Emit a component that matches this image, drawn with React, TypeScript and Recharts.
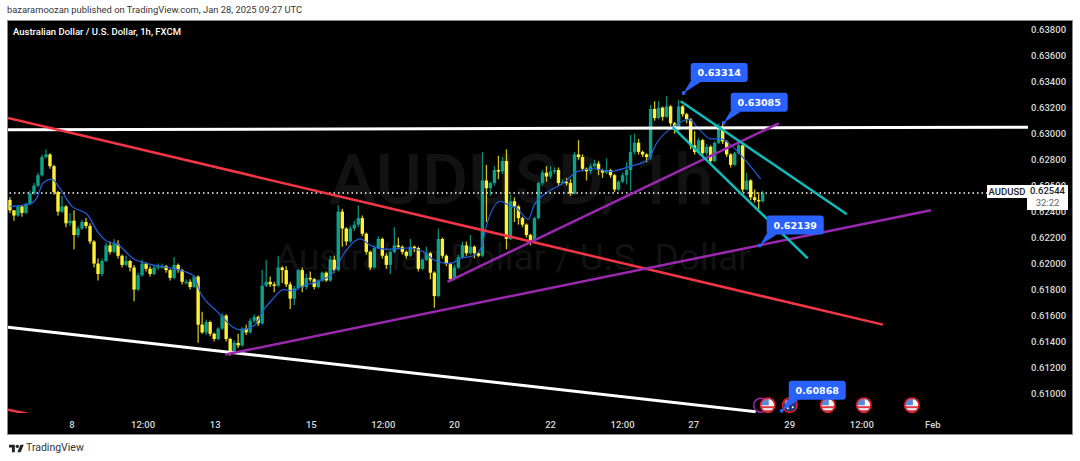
import { Bar, ComposedChart, Line, ReferenceDot, ReferenceLine, XAxis, YAxis } from "recharts";

// all prices in pips (0.0001), one candle = 2 chart hours
const FIRST_OPEN = 6249;
const closes = [
  6241, 6237, 6244, 6239, 6246, 6254, 6260, 6268, 6282, 6284, 6275, 6255, 6240, 6244, 6231, 6233, 6222, 6227, 6232, 6229, 6217, 6200, 6192, 6202, 6214, 6209, 6215, 6206, 6199, 6202, 6197, 6180, 6191, 6200, 6196, 6192, 6197, 6198,
  6198, 6195, 6189, 6199, 6195, 6186, 6186, 6182, 6190, 6153, 6147, 6155, 6146, 6142, 6150, 6160, 6142, 6132, 6139, 6137, 6150, 6147, 6156, 6159, 6154, 6183, 6186, 6184, 6183, 6197, 6195, 6184, 6173, 6181, 6195, 6182, 6189,
  6188, 6182, 6187, 6193, 6187, 6203, 6195, 6240, 6227, 6217, 6227, 6230, 6235, 6223, 6209, 6197, 6212, 6219, 6206, 6199, 6209, 6214, 6213, 6209, 6206, 6213, 6212, 6196, 6203, 6208, 6193, 6175, 6219, 6206, 6200, 6188, 6197, 6205,
  6214, 6208, 6213, 6208, 6206, 6264, 6258, 6262, 6272, 6271, 6279, 6219, 6248, 6244, 6235, 6230, 6222, 6218, 6235, 6262, 6270, 6267, 6271, 6272, 6262, 6263, 6262, 6254, 6284, 6282, 6273, 6271, 6275, 6277, 6272, 6270, 6272,
  6268, 6257, 6263, 6268, 6272, 6286, 6293, 6286, 6284, 6282, 6319, 6312, 6320, 6313, 6321, 6308, 6303, 6321, 6315, 6311, 6291, 6286, 6295, 6285, 6290, 6279, 6293, 6304, 6294, 6284, 6276, 6285, 6291, 6257, 6264, 6251, 6249, 6248, 6254,
];
const highs = [
  6251, 6241, 6245, 6245, 6247, 6256, 6262, 6270, 6284, 6288, 6285, 6276, 6256, 6252, 6245, 6239, 6241, 6229, 6234, 6235, 6231, 6218, 6204, 6204, 6216, 6217, 6219, 6218, 6207, 6206, 6203, 6199, 6193, 6203, 6201, 6198, 6199, 6200,
  6200, 6199, 6196, 6205, 6200, 6196, 6188, 6188, 6191, 6191, 6163, 6157, 6156, 6147, 6151, 6162, 6161, 6143, 6141, 6146, 6151, 6153, 6158, 6161, 6160, 6195, 6203, 6190, 6186, 6206, 6198, 6198, 6186, 6183, 6196, 6197, 6192,
  6194, 6189, 6188, 6194, 6194, 6206, 6206, 6245, 6242, 6228, 6229, 6233, 6245, 6237, 6224, 6210, 6214, 6221, 6220, 6208, 6210, 6228, 6220, 6214, 6210, 6219, 6214, 6213, 6204, 6213, 6209, 6194, 6227, 6220, 6207, 6201, 6199, 6207,
  6217, 6217, 6222, 6214, 6209, 6286, 6276, 6263, 6275, 6283, 6282, 6288, 6253, 6251, 6245, 6236, 6231, 6223, 6236, 6263, 6272, 6275, 6275, 6274, 6274, 6265, 6266, 6265, 6286, 6295, 6284, 6274, 6277, 6280, 6279, 6273, 6281,
  6273, 6269, 6264, 6270, 6278, 6299, 6300, 6296, 6287, 6285, 6322, 6325, 6325, 6321, 6329, 6322, 6309, 6326, 6322, 6316, 6312, 6302, 6297, 6296, 6292, 6291, 6294, 6308, 6308, 6295, 6285, 6286, 6293, 6293, 6270, 6265, 6257, 6255, 6256,
];
const lows = [
  6239, 6233, 6236, 6236, 6238, 6245, 6253, 6259, 6267, 6281, 6273, 6253, 6237, 6239, 6228, 6229, 6211, 6220, 6226, 6227, 6215, 6197, 6187, 6190, 6201, 6207, 6208, 6204, 6197, 6198, 6194, 6171, 6179, 6190, 6194, 6190, 6191, 6195,
  6196, 6193, 6187, 6188, 6193, 6184, 6184, 6180, 6181, 6139, 6146, 6145, 6144, 6140, 6141, 6149, 6140, 6129, 6131, 6135, 6136, 6145, 6146, 6154, 6152, 6153, 6182, 6182, 6178, 6182, 6185, 6182, 6165, 6168, 6180, 6178, 6180,
  6186, 6180, 6181, 6186, 6186, 6186, 6193, 6194, 6213, 6214, 6216, 6225, 6228, 6221, 6207, 6195, 6196, 6211, 6204, 6196, 6192, 6208, 6211, 6207, 6204, 6205, 6209, 6194, 6195, 6202, 6188, 6166, 6174, 6204, 6198, 6186, 6187, 6196,
  6204, 6206, 6207, 6204, 6205, 6205, 6232, 6252, 6260, 6265, 6269, 6211, 6218, 6232, 6230, 6228, 6220, 6214, 6217, 6234, 6260, 6263, 6265, 6269, 6260, 6261, 6260, 6252, 6253, 6280, 6271, 6264, 6269, 6274, 6268, 6266, 6269,
  6266, 6255, 6256, 6262, 6261, 6256, 6284, 6284, 6282, 6278, 6280, 6310, 6311, 6310, 6312, 6306, 6300, 6302, 6313, 6308, 6288, 6284, 6285, 6283, 6283, 6277, 6278, 6292, 6292, 6282, 6274, 6275, 6284, 6255, 6256, 6249, 6247, 6242, 6247,
];

const maHours = [0, 10, 13.5, 16.5, 21, 23.5, 31, 38.5, 44, 48.5, 53.5, 61.5, 68.5, 78.5, 91.5, 95, 103.5, 106, 111.5, 115, 122.5, 126.5, 131.5, 136.5, 141.5, 145, 155, 161.5, 166.5, 175, 180, 188.5, 198.5, 206.5, 211.5, 220, 225, 231.5, 235, 238.5, 245, 249, 253.5, 259, 261.5, 268.5, 276.5, 283.5, 291.5, 300, 310, 318.5, 323.5, 330, 335, 339, 345, 350, 355, 361, 366.5, 375];
const maValues = [6244, 6246, 6251, 6262, 6265, 6261, 6244, 6238, 6224, 6217, 6215, 6204, 6200, 6197, 6191, 6178, 6163, 6159, 6151, 6149, 6153, 6164, 6173, 6180, 6179, 6182, 6187, 6193, 6207, 6219, 6214, 6211, 6212, 6209, 6203, 6200, 6204, 6206, 6211, 6232, 6248, 6245, 6242, 6234, 6244, 6255, 6262, 6271, 6273, 6271, 6275, 6280, 6294, 6304, 6309, 6311, 6302, 6296, 6296, 6290, 6281, 6265];

const priceTicks = [0.61, 0.612, 0.614, 0.616, 0.618, 0.62, 0.622, 0.624, 0.626, 0.628, 0.63, 0.632, 0.634, 0.636, 0.638];
const timeTicks = [31, 66.5, 102.5, 150.5, 186.5, 222, 270, 306, 341.5, 389.5, 425.5, 461];
const timeLabels = ["8", "12:00", "13", "15", "12:00", "20", "22", "12:00", "27", "29", "12:00", "Feb"];

const LAST_PRICE = 0.62544;
const WHITE = "#ffffff";
const RED = "#f23645";
const PURPLE = "#9c27b0";
const CYAN = "#0fbcbc";
const BODY_WIDTH = 3.4;

// [color, width, hour1, pips1, hour2, pips2]
const trendLines: [string, number, number, number, number, number][] = [
  [WHITE, 3, -1, 6303, 508.5, 6305],
  [WHITE, 3, -1, 6151, 372.5, 6086],
  [RED, 2.5, -1, 6312, 436, 6153],
  [RED, 2.5, -1, 6087.5, 13, 6083],
  [PURPLE, 2.5, 107.5, 6130, 460, 6241],
  [PURPLE, 2.5, 218.5, 6186, 384, 6308],
  [CYAN, 2.5, 335, 6325, 418, 6238],
  [CYAN, 2.5, 331, 6305, 398.5, 6204],
];

const calloutHours = [336.5, 356.5, 374.5, 385.5];
const calloutPrices = [0.63314, 0.63085, 0.62139, 0.60868];

const usEvents = [378.5, 408.5, 426.5, 450.5];
const auEvents = [389.5];
const otherEvents = [375];
const EVENT_PRICE = 0.6091;

const candles = closes.map((close, i) => ({
  hour: i * 2,
  open: (i === 0 ? FIRST_OPEN : closes[i - 1]) / 10000,
  close: close / 10000,
  range: [lows[i] / 10000, highs[i] / 10000],
}));
const maLine = maHours.map((hour, i) => ({ hour, ma: maValues[i] / 10000 }));

function Candle(props: any) {
  const { x, y, width, height, payload } = props;
  const [low, high] = payload.range;
  const py = (p: number) => y + ((high - p) / (high - low)) * height;
  const up = payload.close >= payload.open;
  const cx = x + width / 2;
  const top = py(Math.max(payload.open, payload.close));
  const bottom = py(Math.min(payload.open, payload.close));
  return (
    <g>
      <line x1={cx} x2={cx} y1={y} y2={y + height} stroke={up ? "#0b8a77" : "#d2c222"} strokeWidth={1.3} />
      <rect x={cx - BODY_WIDTH / 2} y={top} width={BODY_WIDTH} height={Math.max(bottom - top, 1.5)} fill={up ? "#0aa08a" : "#fff033"} />
    </g>
  );
}

function Callout(props: any) {
  const { cx, cy, text } = props;
  return (
    <g>
      <path d={`M${cx} ${cy} L${cx + 7} ${cy - 12} L${cx + 17} ${cy - 11} Z`} fill="#2962ff" />
      <rect x={cx + 7} y={cy - 30} width={57} height={19} rx={3} fill="#2962ff" />
      <circle cx={cx} cy={cy} r={2} fill="#2962ff" />
      <text x={cx + 35.5} y={cy - 17} textAnchor="middle" fill="#fff" fontSize={9.5} fontWeight={700} fontFamily="DejaVu Sans">
        {text}
      </text>
    </g>
  );
}

function UsFlag(props: any) {
  const { cx, cy } = props;
  const id = `us-${Math.round(cx)}`;
  return (
    <g>
      <clipPath id={id}>
        <circle cx={cx} cy={cy} r={6.5} />
      </clipPath>
      <g clipPath={`url(#${id})`}>
        <rect x={cx - 7} y={cy - 7} width={14} height={14} fill="#f4f4f4" />
        <rect x={cx - 7} y={cy + 1} width={14} height={2} fill="#e23744" />
        <rect x={cx - 7} y={cy + 5} width={14} height={2} fill="#e23744" />
        <rect x={cx - 7} y={cy - 7} width={8} height={7} fill="#5a87d6" />
      </g>
      <circle cx={cx} cy={cy} r={7.2} fill="none" stroke="#e0202e" strokeWidth={1.6} />
    </g>
  );
}

function AuFlag(props: any) {
  const { cx, cy } = props;
  return (
    <g>
      <circle cx={cx} cy={cy} r={6.5} fill="#1f3a7a" />
      <rect x={cx - 5} y={cy - 5} width={5} height={4} fill="#c9768a" />
      <circle cx={cx + 3} cy={cy + 2} r={1} fill="#fff" />
      <circle cx={cx - 2} cy={cy + 3} r={1} fill="#fff" />
      <circle cx={cx} cy={cy} r={7.2} fill="none" stroke="#e0202e" strokeWidth={1.6} />
    </g>
  );
}

function OtherEvent(props: any) {
  const { cx, cy } = props;
  return <circle cx={cx} cy={cy} r={7} fill="#000" stroke={PURPLE} strokeWidth={1.5} />;
}

export default function App() {
  return (
    <div style={{ position: "absolute", left: 0, top: 0, width: 1080, height: 461, background: "#fff", overflow: "hidden", fontFamily: "Roboto" }}>
      <div style={{ position: "absolute", left: 7, top: 4, fontSize: 9.4, color: "#333", whiteSpace: "nowrap" }}>
        bazaramoozan published on TradingView.com, Jan 28, 2025 09:27 UTC
      </div>

      <div style={{ position: "absolute", left: 7, top: 20, width: 1066, height: 415, background: "#000", boxShadow: "inset 0 0 0 1px #8a8a8a", overflow: "hidden" }}>
        <div style={{ position: "absolute", left: 322, top: 124, fontSize: 71, lineHeight: "72px", fontWeight: 500, color: "#121212", whiteSpace: "nowrap" }}>
          AUDUSD, 1h
        </div>
        <div style={{ position: "absolute", left: 268, top: 218, fontSize: 37, lineHeight: "40px", color: "#121212", whiteSpace: "nowrap" }}>
          Australian Dollar / U.S. Dollar
        </div>
      </div>

      <div style={{ position: "absolute", left: 7, top: 20 }}>
        <ComposedChart width={1066} height={415} data={candles} margin={{ top: 0, right: 0, bottom: 0, left: 1 }}>
          <XAxis
            dataKey="hour"
            type="number"
            scale="linear"
            domain={[-1, 508.5]}
            allowDataOverflow
            ticks={timeTicks}
            tickFormatter={(v: number) => timeLabels[timeTicks.indexOf(v)]}
            axisLine={false}
            tickLine={false}
            height={22}
            interval={0}
            tick={{ fill: "#d8d8d8", fontSize: 9.5, fontWeight: 500 }}
          />
          <YAxis
            orientation="right"
            type="number"
            domain={[0.6085, 0.63875]}
            allowDataOverflow
            ticks={priceTicks}
            tickFormatter={(v: number) => v.toFixed(5)}
            axisLine={false}
            tickLine={false}
            width={45}
            interval={0}
            tickMargin={0}
            tick={{ fill: "#d8d8d8", fontSize: 9.5, fontWeight: 500, dx: -3 }}
          />
          <Bar dataKey="range" barSize={2} shape={<Candle />} isAnimationActive={false} />
          <Line data={maLine} dataKey="ma" type="monotone" stroke="#1f5fe0" strokeWidth={1.2} dot={false} isAnimationActive={false} />
          <ReferenceLine y={LAST_PRICE} stroke="#fff" strokeWidth={1.5} strokeDasharray="1.5 3" />
          {trendLines.map(([color, w, h1, p1, h2, p2], i) => (
            <ReferenceLine
              key={i}
              ifOverflow="hidden"
              stroke={color}
              strokeWidth={w}
              segment={[
                { x: h1, y: p1 / 10000 },
                { x: h2, y: p2 / 10000 },
              ]}
            />
          ))}
          {otherEvents.map((h) => (
            <ReferenceDot key={h} x={h} y={EVENT_PRICE} shape={<OtherEvent />} />
          ))}
          {usEvents.map((h) => (
            <ReferenceDot key={h} x={h} y={EVENT_PRICE} shape={<UsFlag />} />
          ))}
          {auEvents.map((h) => (
            <ReferenceDot key={h} x={h} y={EVENT_PRICE} shape={<AuFlag />} />
          ))}
          {calloutPrices.map((p, i) => (
            <ReferenceDot key={p} x={calloutHours[i]} y={p} ifOverflow="visible" shape={<Callout text={p.toFixed(5)} />} />
          ))}
        </ComposedChart>
      </div>

      <div style={{ position: "absolute", left: 1027, top: 185, width: 41, height: 25, background: "#fff", fontSize: 9.5, fontWeight: 500, lineHeight: "12px", textAlign: "center", color: "#222" }}>
        {LAST_PRICE.toFixed(5)}
        <div style={{ color: "#666", fontWeight: 400 }}>32:22</div>
      </div>
      <div style={{ position: "absolute", left: 987, top: 185, width: 40, height: 13, background: "#fff", fontSize: 9.5, fontWeight: 500, lineHeight: "13px", textAlign: "center", color: "#222" }}>
        AUDUSD
      </div>

      <div style={{ position: "absolute", left: 13, top: 26, fontSize: 9.5, fontWeight: 500, color: "#fff", whiteSpace: "nowrap" }}>
        Australian Dollar / U.S. Dollar, 1h, FXCM
      </div>

      <svg style={{ position: "absolute", left: 8, top: 443 }} width={17} height={10} viewBox="0 0 36 24">
        <path d="M14 22H7V11H0V4h14v18zM28 22h-8l7.5-18h8L28 22z" fill="#222" />
        <circle cx={20} cy={8} r={4} fill="#222" />
      </svg>
      <div style={{ position: "absolute", left: 26, top: 441, fontSize: 10.5, color: "#333", whiteSpace: "nowrap" }}>TradingView</div>
    </div>
  );
}
